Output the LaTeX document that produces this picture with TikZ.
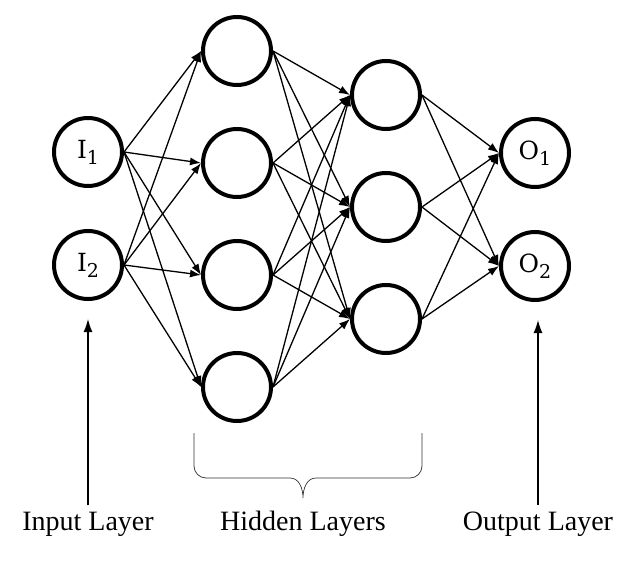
\documentclass[tikz,border=0pt]{standalone}
\usepackage{fontspec}
\setmainfont{Liberation Serif}
\newfontfamily\labelfont{DejaVu Serif}
\usetikzlibrary{arrows.meta}
\newcommand{\nlabel}[2]{#1\raisebox{-6pt}{\fontsize{19pt}{20pt}\selectfont #2}}
\tikzset{
  neuron/.style={circle, draw=black, line width=4pt, minimum size=68pt, inner sep=0pt, font=\labelfont\fontsize{25pt}{28pt}\selectfont},
  link/.style={line width=1.3pt, -{Latex[length=11pt,width=8pt]}},
  pointer/.style={line width=1.4pt, -{Latex[length=13pt,width=9pt]}},
  layername/.style={font=\fontsize{28pt}{30pt}\selectfont}
}
\begin{document}
\begin{tikzpicture}[x=1pt,y=-1pt]
\useasboundingbox (0,0) rectangle (621,569);
% input layer
\node[neuron] (i1) at (88,152) {\nlabel{I}{1}};
\node[neuron] (i2) at (88,265) {\nlabel{I}{2}};
% hidden layer 1
\node[neuron] (a1) at (237,51) {};
\node[neuron] (a2) at (237,163) {};
\node[neuron] (a3) at (237,275) {};
\node[neuron] (a4) at (237,387) {};
% hidden layer 2
\node[neuron] (b1) at (386,95) {};
\node[neuron] (b2) at (386,207) {};
\node[neuron] (b3) at (386,319) {};
% output layer
\node[neuron] (o1) at (535,153) {\nlabel{O}{1}};
\node[neuron] (o2) at (535,266) {\nlabel{O}{2}};
% input to hidden 1
\draw[link] (i1.east) -- (a1.west);
\draw[link] (i1.east) -- (a2.west);
\draw[link] (i1.east) -- (a3.west);
\draw[link] (i1.east) -- (a4.west);
\draw[link] (i2.east) -- (a1.west);
\draw[link] (i2.east) -- (a2.west);
\draw[link] (i2.east) -- (a3.west);
\draw[link] (i2.east) -- (a4.west);
% hidden 1 to hidden 2
\draw[link] (a1.east) -- (b1.west);
\draw[link] (a1.east) -- (b2.west);
\draw[link] (a1.east) -- (b3.west);
\draw[link] (a2.east) -- (b1.west);
\draw[link] (a2.east) -- (b2.west);
\draw[link] (a2.east) -- (b3.west);
\draw[link] (a3.east) -- (b1.west);
\draw[link] (a3.east) -- (b2.west);
\draw[link] (a3.east) -- (b3.west);
\draw[link] (a4.east) -- (b1.west);
\draw[link] (a4.east) -- (b2.west);
\draw[link] (a4.east) -- (b3.west);
% hidden 2 to output
\draw[link] (b1.east) -- (o1.west);
\draw[link] (b1.east) -- (o2.west);
\draw[link] (b2.east) -- (o1.west);
\draw[link] (b2.east) -- (o2.west);
\draw[link] (b3.east) -- (o1.west);
\draw[link] (b3.east) -- (o2.west);
% layer names
\node[layername] (inname) at (88,524) {Input Layer};
\node[layername] (hidname) at (303,524) {Hidden Layers};
\node[layername] (outname) at (538,524) {Output Layer};
\draw[pointer, shorten <=3pt, shorten >=18pt] (inname.north) -- (inname.north |- i2.south);
\draw[pointer, shorten <=3pt, shorten >=18pt] (outname.north) -- (outname.north |- o2.south);
% brace
\draw[line width=0.7pt, black!80] (194,433) -- (194,466) to[out=-90,in=180] (206,478) -- (290,478)
  to[out=0,in=90] (303,498) to[out=90,in=180] (316,478) -- (410,478) to[out=0,in=-90] (422,466) -- (422,433);
\end{tikzpicture}
\end{document}
